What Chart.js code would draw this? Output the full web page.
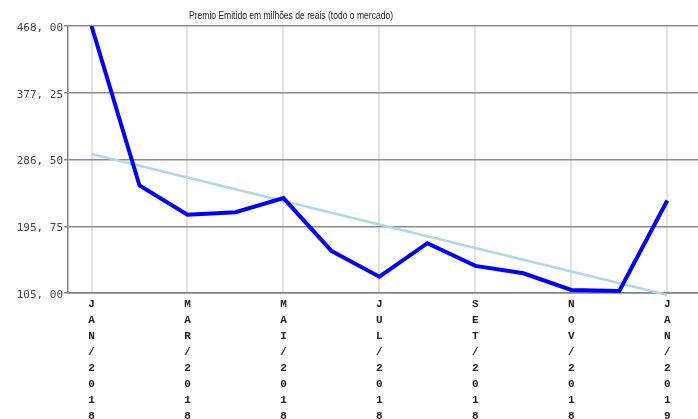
<!DOCTYPE html>
<html>
<head>
<meta charset="utf-8">
<script src="https://cdn.jsdelivr.net/npm/chart.js@4/dist/chart.umd.min.js"></script>
<style>
  html, body { margin: 0; padding: 0; background: #fff; }
  #wrap { width: 698px; height: 419px; position: relative; }
</style>
</head>
<body>
<div id="wrap"><canvas id="c"></canvas></div>
<script>
const titleText = 'Premio Emitido em milhões de reais (todo o mercado)';
const months = ['JAN/2018','FEV/2018','MAR/2018','ABR/2018','MAI/2018','JUN/2018','JUL/2018','AGO/2018','SET/2018','OUT/2018','NOV/2018','DEZ/2018','JAN/2019'];
const premio = [468.0, 251.2, 211.3, 214.9, 234.0, 162.2, 127.2, 172.7, 141.8, 131.8, 109.1, 107.7, 230.7];
const trendX = [0, 12];
const trendY = [293.9, 102.3];
const yTicks = [105, 195.75, 286.5, 377.25, 468];
const xTicks = [0, 2, 4, 6, 8, 10, 12];

const titlePlugin = {
  id: 'customTitle',
  afterDraw(chart) {
    const ctx = chart.ctx;
    ctx.save();
    ctx.font = '11px "Liberation Sans", Arial, sans-serif';
    ctx.fillStyle = '#222';
    ctx.textAlign = 'center';
    ctx.textBaseline = 'middle';
    const w = ctx.measureText(titleText).width;
    const s = Math.min(1, 204 / w);
    ctx.translate(291, 16);
    ctx.scale(s, 1);
    ctx.fillText(titleText, 0, 0);
    ctx.restore();
  }
};

new Chart(document.getElementById('c'), {
  type: 'line',
  data: {
    datasets: [
      {
        data: premio.map((v, i) => ({ x: i, y: v })),
        borderColor: '#0000ff',
        borderWidth: 4,
        pointRadius: 0,
        tension: 0,
        fill: false,
        order: 1
      },
      {
        data: trendX.map((x, i) => ({ x: x, y: trendY[i] })),
        borderColor: '#add8e6',
        borderWidth: 2.5,
        pointRadius: 0,
        tension: 0,
        fill: false,
        clip: 6,
        order: 2
      }
    ]
  },
  options: {
    responsive: true,
    maintainAspectRatio: false,
    animation: false,
    layout: { padding: { top: 26, left: 0, right: 0, bottom: 0 } },
    plugins: { legend: { display: false }, title: { display: false }, tooltip: { enabled: false } },
    scales: {
      x: {
        type: 'linear',
        min: -0.49,
        max: 12.64,
        afterBuildTicks: (scale) => { scale.ticks = xTicks.map(v => ({ value: v })); },
        afterFit: (scale) => { scale.height = 126; },
        grid: { color: '#e2e2e2', lineWidth: 2, drawTicks: false },
        border: { color: '#808080', width: 1.5 },
        ticks: {
          autoSkip: false,
          maxRotation: 0,
          minRotation: 0,
          padding: 3,
          color: '#222',
          font: { family: '"Liberation Mono", "Courier New", monospace', size: 11, weight: 'bold', lineHeight: '16px' },
          callback: (v) => months[v] ? months[v].split('') : ''
        }
      },
      y: {
        min: 105,
        max: 468,
        afterBuildTicks: (scale) => { scale.ticks = yTicks.map(v => ({ value: v })); },
        afterFit: (scale) => { scale.width = 68; },
        grid: { color: '#8a8a8a', lineWidth: 1.5, tickLength: 4 },
        border: { color: '#808080', width: 1.5 },
        ticks: {
          padding: 1,
          labelOffset: 2,
          color: '#444',
          font: { family: '"DejaVu Sans Mono", monospace', size: 11 },
          callback: (v) => v.toFixed(2).replace('.', ', ')
        }
      }
    }
  },
  plugins: [titlePlugin]
});
</script>
</body>
</html>
